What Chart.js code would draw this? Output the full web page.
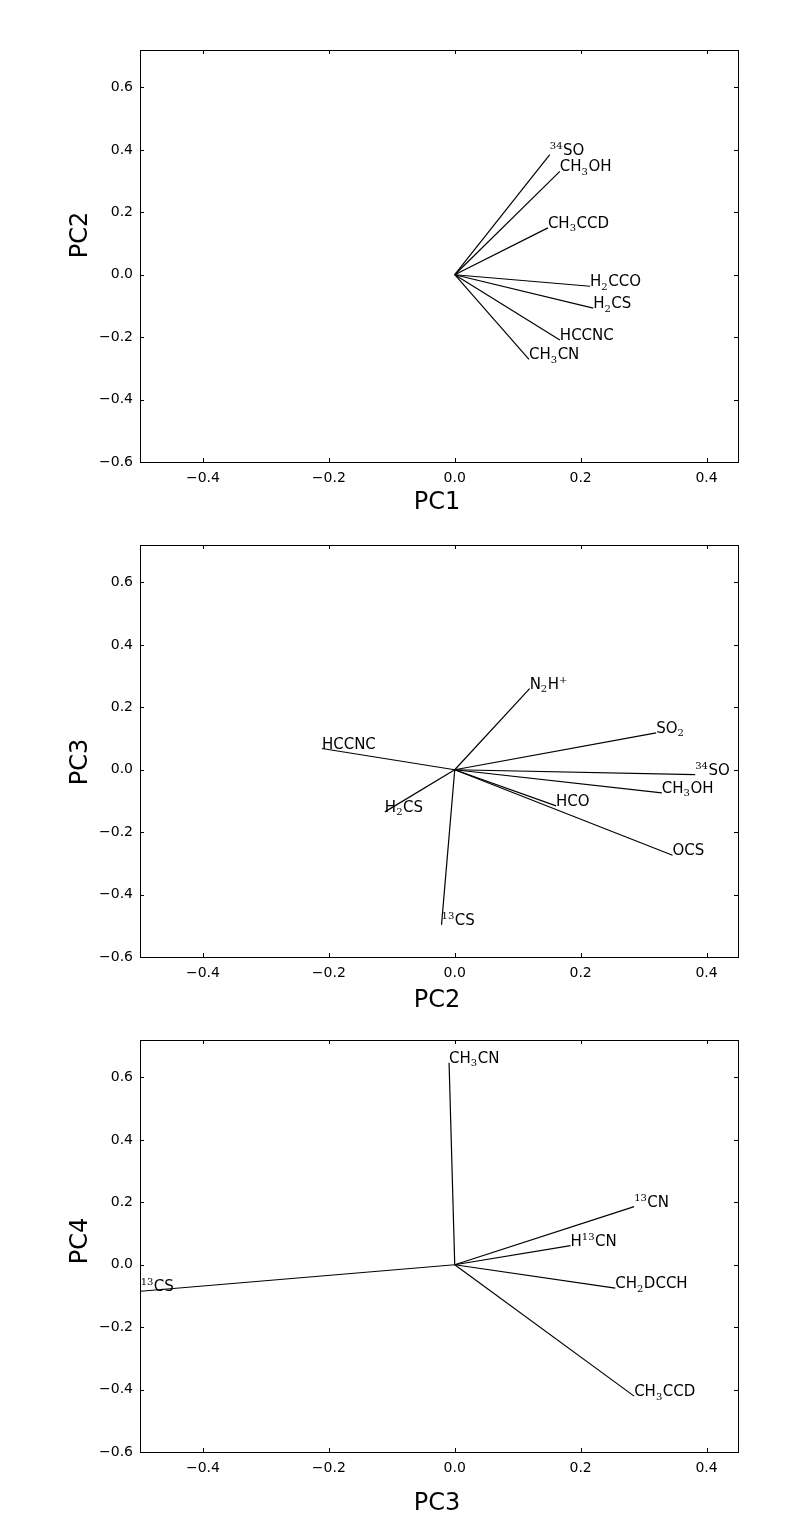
<!DOCTYPE html>
<html lang="en">
<head>
<meta charset="utf-8">
<script src="https://cdn.jsdelivr.net/npm/chart.js@4.4.0/dist/chart.umd.min.js"></script>
<style>
  body { margin: 0; background: #fff; }
  #wrap { position: relative; width: 809px; height: 1538px; }
  canvas { position: absolute; left: 0; }
</style>
</head>
<body>
<div id="wrap">
  <canvas id="c1" width="809" height="520" style="top:0px"></canvas>
  <canvas id="c2" width="809" height="520" style="top:495px"></canvas>
  <canvas id="c3" width="809" height="548" style="top:990px"></canvas>
</div>
<script>
// tick labels
var xTicks = [-0.4, -0.2, 0.0, 0.2, 0.4];
var yTicks = [-0.6, -0.4, -0.2, 0.0, 0.2, 0.4, 0.6];

// PC1 vs PC2 loadings
var p1Names = ['^{34}SO', 'CH_{3}OH', 'CH_{3}CCD', 'H_{2}CCO', 'H_{2}CS', 'HCCNC', 'CH_{3}CN'];
var p1X = [0.151, 0.167, 0.148, 0.215, 0.220, 0.167, 0.118];
var p1Y = [0.385, 0.331, 0.150, -0.037, -0.107, -0.209, -0.271];

// PC2 vs PC3 loadings
var p2Names = ['N_{2}H^{+}', 'SO_{2}', '^{34}SO', 'CH_{3}OH', 'HCO', 'OCS', 'HCCNC', 'H_{2}CS', '^{13}CS'];
var p2X = [0.119, 0.320, 0.382, 0.329, 0.161, 0.346, -0.211, -0.111, -0.021];
var p2Y = [0.260, 0.118, -0.016, -0.074, -0.116, -0.274, 0.068, -0.135, -0.497];

// PC3 vs PC4 loadings
var p3Names = ['CH_{3}CN', '^{13}CN', 'H^{13}CN', 'CH_{2}DCCH', 'CH_{3}CCD', '^{13}CS'];
var p3X = [-0.009, 0.285, 0.184, 0.255, 0.285, -0.499];
var p3Y = [0.647, 0.186, 0.061, -0.075, -0.421, -0.085];

Chart.defaults.font.family = 'DejaVu Sans';
Chart.defaults.color = '#000';

function fmt(v) {
  return (v < 0 ? '\u2212' : '') + Math.abs(v).toFixed(1);
}

// draws text like CH_{3}OH or ^{34}SO with sub/superscripts
function drawRich(ctx, s, x, y) {
  var re = /([_^])\{([^}]*)\}|([^_^]+)/g, m;
  ctx.textAlign = 'left';
  ctx.textBaseline = 'alphabetic';
  while ((m = re.exec(s)) !== null) {
    if (m[3]) {
      ctx.font = '15px "DejaVu Sans"';
      ctx.fillText(m[3], x, y);
      x += ctx.measureText(m[3]).width;
    } else {
      ctx.font = '10px "DejaVu Serif"';
      var dy = m[1] === '_' ? 3.5 : -6;
      ctx.fillText(m[2], x, y + dy);
      x += ctx.measureText(m[2]).width + 0.5;
    }
  }
}

var framePlugin = {
  id: 'frame',
  afterDatasetsDraw: function(chart) {
    var ctx = chart.ctx, xs = chart.scales.x, ys = chart.scales.y;
    var o = chart.options.plugins.frame;
    ctx.save();
    ctx.fillStyle = '#000';
    o.names.forEach(function(n, i) {
      drawRich(ctx, n, xs.getPixelForValue(o.xs[i]), ys.getPixelForValue(o.ys[i]));
    });
    ctx.restore();
  },
  afterDraw: function(chart) {
    var ctx = chart.ctx, a = chart.chartArea, xs = chart.scales.x, ys = chart.scales.y;
    var o = chart.options.plugins.frame;
    ctx.save();
    ctx.strokeStyle = '#000';
    ctx.lineWidth = 1;
    ctx.strokeRect(Math.round(a.left) + 0.5, Math.round(a.top) + 0.5,
      Math.round(a.right - a.left), Math.round(a.bottom - a.top));
    ctx.beginPath();
    xTicks.forEach(function(v) {
      var px = Math.round(xs.getPixelForValue(v)) + 0.5;
      ctx.moveTo(px, a.bottom); ctx.lineTo(px, a.bottom - 4);
      ctx.moveTo(px, a.top); ctx.lineTo(px, a.top + 4);
    });
    yTicks.forEach(function(v) {
      var py = Math.round(ys.getPixelForValue(v)) + 0.5;
      ctx.moveTo(a.left, py); ctx.lineTo(a.left + 4, py);
      ctx.moveTo(a.right, py); ctx.lineTo(a.right - 4, py);
    });
    ctx.stroke();

    // axis titles
    ctx.fillStyle = '#000';
    ctx.font = '24px "DejaVu Sans"';
    ctx.textAlign = 'center';
    ctx.textBaseline = 'middle';
    ctx.fillText(o.xTitle, (a.left + a.right) / 2 - 2, a.bottom + o.xdy);
    ctx.translate(81, o.ycy);
    ctx.rotate(-Math.PI / 2);
    ctx.fillText(o.yTitle, 0, 0);
    ctx.restore();
  }
};

function makeChart(id, names, xs, ys, xTitle, yTitle, xdy, ycy, xAxisH) {
  var datasets = names.map(function(n, i) {
    return {
      label: n,
      data: [{ x: 0, y: 0 }, { x: xs[i], y: ys[i] }],
      showLine: true,
      borderColor: '#000',
      borderWidth: 1.2,
      pointRadius: 0,
      fill: false
    };
  });
  return new Chart(document.getElementById(id), {
    type: 'scatter',
    data: { datasets: datasets },
    options: {
      responsive: false,
      animation: false,
      layout: { padding: { left: 0, right: 71, top: 50, bottom: 0 } },
      plugins: {
        legend: { display: false },
        tooltip: { enabled: false },
        frame: { names: names, xs: xs, ys: ys, xTitle: xTitle, yTitle: yTitle, xdy: xdy, ycy: ycy }
      },
      scales: {
        x: {
          type: 'linear', min: -0.5, max: 0.45,
          afterBuildTicks: function(s) { s.ticks = xTicks.map(function(v) { return { value: v }; }); },
          afterFit: function(s) { s.height = xAxisH; },
          grid: { display: false, drawTicks: false },
          border: { display: false },
          ticks: { padding: 8, maxRotation: 0, font: { size: 14 }, color: '#000', callback: fmt }
        },
        y: {
          type: 'linear', min: -0.6, max: 0.72,
          afterBuildTicks: function(s) { s.ticks = yTicks.map(function(v) { return { value: v }; }); },
          afterFit: function(s) { s.width = 140; },
          grid: { display: false, drawTicks: false },
          border: { display: false },
          ticks: { padding: 7, font: { size: 14 }, color: '#000', callback: fmt }
        }
      }
    },
    plugins: [framePlugin]
  });
}

makeChart('c1', p1Names, p1X, p1Y, 'PC1', 'PC2', 41, 235, 58);
makeChart('c2', p2Names, p2X, p2Y, 'PC2', 'PC3', 44, 267, 58);
makeChart('c3', p3Names, p3X, p3Y, 'PC3', 'PC4', 52, 251, 86);
</script>
</body>
</html>
